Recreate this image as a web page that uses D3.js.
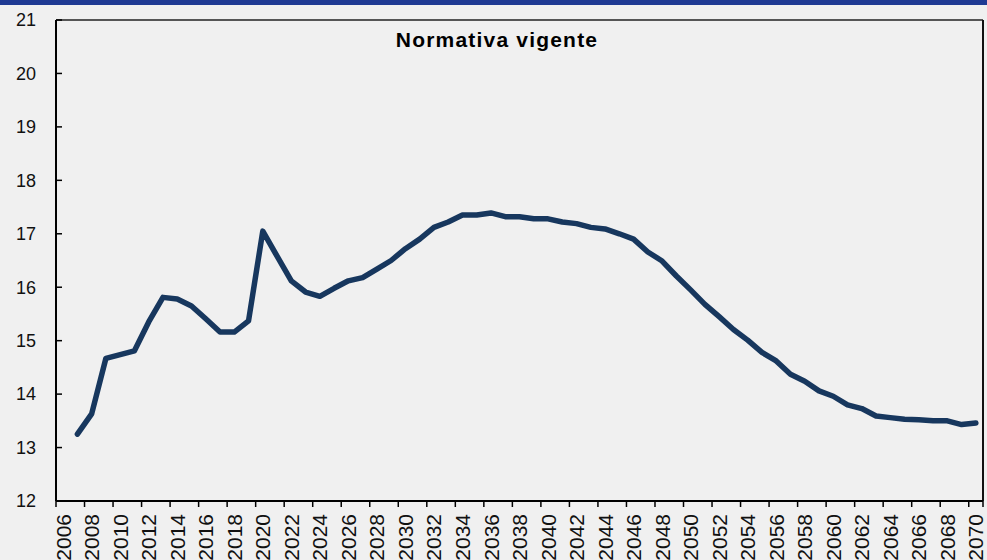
<!DOCTYPE html>
<html>
<head>
<meta charset="utf-8">
<script src="https://cdn.jsdelivr.net/npm/d3@7"></script>
<style>
  html, body { margin: 0; padding: 0; background: #f0f0f0; }
  svg { display: block; }
</style>
</head>
<body>
<svg id="chart" width="987" height="560"></svg>
<script>
// categories on the axis (one band per year)
var years = d3.range(2006, 2071);
// series: years with data, and values
var dataYears = d3.range(2007, 2071);
var values = [
  13.25, 13.63, 14.67, 14.74, 14.81, 15.35, 15.81, 15.78, 15.65, 15.41,
  15.16, 15.16, 15.37, 17.05, 16.58, 16.12, 15.91, 15.83, 15.98, 16.12,
  16.18, 16.34, 16.50, 16.72, 16.90, 17.12, 17.22, 17.35, 17.35, 17.39,
  17.32, 17.32, 17.28, 17.28, 17.22, 17.19, 17.12, 17.09, 17.00, 16.90,
  16.66, 16.49, 16.21, 15.95, 15.68, 15.45, 15.21, 15.01, 14.78, 14.62,
  14.37, 14.24, 14.06, 13.96, 13.80, 13.73, 13.59, 13.56, 13.53, 13.52,
  13.50, 13.50, 13.43, 13.46
];
var yTicks = [12, 13, 14, 15, 16, 17, 18, 19, 20, 21];
var title = "Normativa vigente";

var svg = d3.select("#chart"),
    margin = { top: 20, right: 4, bottom: 59, left: 56 },
    width = +svg.attr("width") - margin.left - margin.right,
    height = +svg.attr("height") - margin.top - margin.bottom;

svg.append("rect").attr("width", 987).attr("height", 560).attr("fill", "#f0f0f0");
svg.append("rect").attr("width", 987).attr("height", 5).attr("fill", "#1f3a93");

var g = svg.append("g").attr("transform", "translate(" + margin.left + "," + margin.top + ")");

var x = d3.scaleBand().domain(years).range([0, width]).padding(0);
var y = d3.scaleLinear().domain([12, 21]).range([height, 0]);

// plot frame (top and right)
g.append("line").attr("x1", 0).attr("x2", width).attr("y1", 0).attr("y2", 0)
  .attr("stroke", "#222").attr("stroke-width", 1.5);
g.append("line").attr("x1", width).attr("x2", width).attr("y1", 0).attr("y2", height)
  .attr("stroke", "#111").attr("stroke-width", 2);

// y axis
var yAxis = g.append("g");
yAxis.append("line").attr("x1", 0).attr("x2", 0).attr("y1", 0).attr("y2", height)
  .attr("stroke", "#000").attr("stroke-width", 2);
yAxis.selectAll("line.tick").data(yTicks).enter().append("line")
  .attr("class", "tick")
  .attr("x1", 0).attr("x2", 6)
  .attr("y1", function (d) { return y(d); }).attr("y2", function (d) { return y(d); })
  .attr("stroke", "#000").attr("stroke-width", 1.5);
yAxis.selectAll("text").data(yTicks).enter().append("text")
  .attr("x", -20)
  .attr("y", function (d) { return y(d); })
  .attr("dy", "0.35em")
  .attr("text-anchor", "end")
  .attr("font-family", "Liberation Sans, Arial, sans-serif")
  .attr("font-size", 18)
  .attr("fill", "#111")
  .text(function (d) { return d; });

// x axis
var xTickYears = years.filter(function (d) { return (d - 2006) % 2 === 0; });
var xAxis = g.append("g").attr("transform", "translate(0," + height + ")");
xAxis.append("line").attr("x1", 0).attr("x2", width).attr("y1", 0).attr("y2", 0)
  .attr("stroke", "#000").attr("stroke-width", 2);
xAxis.selectAll("line.tick").data(xTickYears.concat([2070])).enter().append("line")
  .attr("class", "tick")
  .attr("x1", function (d, i) { return i === xTickYears.length ? x(d) + x.bandwidth() : x(d); })
  .attr("x2", function (d, i) { return i === xTickYears.length ? x(d) + x.bandwidth() : x(d); })
  .attr("y1", 0).attr("y2", 6)
  .attr("stroke", "#000").attr("stroke-width", 1.5);
xAxis.selectAll("text").data(xTickYears).enter().append("text")
  .attr("transform", function (d) { return "translate(" + (x(d) + x.bandwidth() / 2) + ",13)rotate(-90)"; })
  .attr("dy", "0.36em")
  .attr("text-anchor", "end")
  .attr("font-family", "Liberation Sans, Arial, sans-serif")
  .attr("font-size", 21)
  .attr("fill", "#111")
  .text(function (d) { return d; });

// line
var line = d3.line()
  .x(function (d, i) { return x(dataYears[i]) + x.bandwidth() / 2; })
  .y(function (d) { return y(d); });

g.append("path")
  .datum(values)
  .attr("d", line)
  .attr("fill", "none")
  .attr("stroke", "#17375e")
  .attr("stroke-width", 5.5)
  .attr("stroke-linecap", "round")
  .attr("stroke-linejoin", "round");

// title
g.append("text")
  .attr("x", 441)
  .attr("y", 27)
  .attr("text-anchor", "middle")
  .attr("font-family", "Liberation Sans, Arial, sans-serif")
  .attr("font-size", 21)
  .attr("font-weight", "bold")
  .attr("letter-spacing", 1.2)
  .attr("fill", "#000")
  .text(title);
</script>
</body>
</html>
